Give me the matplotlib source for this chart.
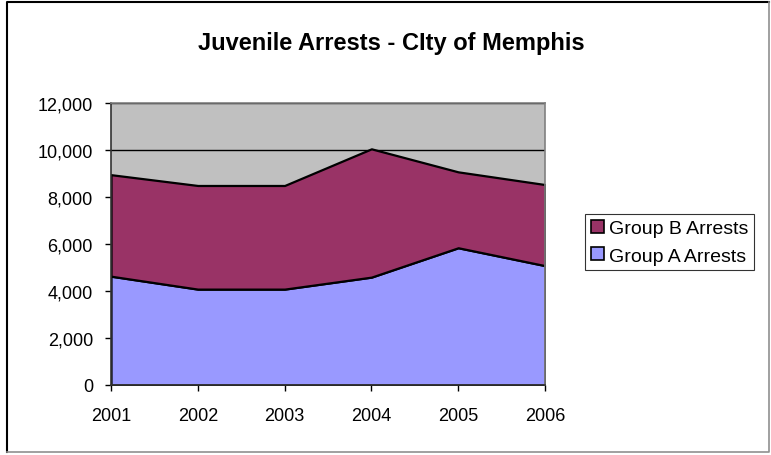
import matplotlib
matplotlib.use("Agg")
import matplotlib.pyplot as plt
from matplotlib.lines import Line2D
from matplotlib.ticker import FuncFormatter

plt.rcParams['font.family'] = ['Liberation Sans', 'DejaVu Sans']

# values
years = ['2001', '2002', '2003', '2004', '2005', '2006']
group_a = [4630, 4080, 4080, 4590, 5840, 5080]
group_b = [4320, 4410, 4410, 5460, 3230, 3450]
y_ticks = [0, 2000, 4000, 6000, 8000, 10000, 12000]

col_a = '#9999FF'
col_b = '#993366'

W, H = 771, 456
fig = plt.figure(figsize=(W / 100, H / 100), dpi=100)
ax = fig.add_axes([111 / W, 1 - 386 / H, 434 / W, 282 / H])

x = list(range(len(years)))
ax.set_facecolor('#C0C0C0')
polys = ax.stackplot(x, group_a, group_b, colors=[col_a, col_b],
                     edgecolor='black', linewidth=1.6, zorder=2)

ax.set_xlim(0, len(years) - 1)
ax.set_ylim(0, 12000)
ax.set_yticks(y_ticks)
ax.yaxis.set_major_formatter(FuncFormatter(lambda v, p: f'{int(v):,}'))
ax.set_xticks(x)
ax.set_xticklabels(years)
ax.grid(axis='y', color='black', linewidth=1.0, zorder=1)
ax.set_axisbelow(True)

ax.tick_params(axis='y', direction='out', length=4, width=1, pad=9, labelsize=13, colors='black')
ax.tick_params(axis='x', direction='out', length=4, width=1, pad=12, labelsize=13, colors='black')

for s in ['top', 'right']:
    ax.spines[s].set_color('#808080')
    ax.spines[s].set_linewidth(1.2)
for s in ['left', 'bottom']:
    ax.spines[s].set_color('#333333')
    ax.spines[s].set_linewidth(1.2)

fig.text(0.507, 1 - 50 / H, 'Juvenile Arrests - CIty of Memphis', ha='center', va='baseline',
         fontsize=17, fontweight='bold')

# legend: B listed first as in the original
leg = fig.legend([polys[1], polys[0]], ['Group B Arrests', 'Group A Arrests'],
                 loc='upper left', bbox_to_anchor=(585 / W, 1 - 215 / H),
                 frameon=True, fancybox=False, fontsize=14,
                 handlelength=0.68, handleheight=0.68, handletextpad=0.25,
                 borderpad=0.3, labelspacing=0.5, borderaxespad=0)
leg.get_frame().set_edgecolor('black')
leg.get_frame().set_linewidth(0.8)
for h in leg.legend_handles:
    h.set_linewidth(1.2)

# chart border: dark left/top, lighter right/bottom
x0, x1 = 7 / W, 769 / W
y0, y1 = 1 - 453 / H, 1 - 3 / H
fig.add_artist(Line2D([x0, x0, x1], [y0, y1, y1], transform=fig.transFigure,
                      color='black', linewidth=1.5))
fig.add_artist(Line2D([x0, x1, x1], [y0, y0, y1], transform=fig.transFigure,
                      color='#909090', linewidth=1.2))

fig.savefig('out.png', dpi=100)
